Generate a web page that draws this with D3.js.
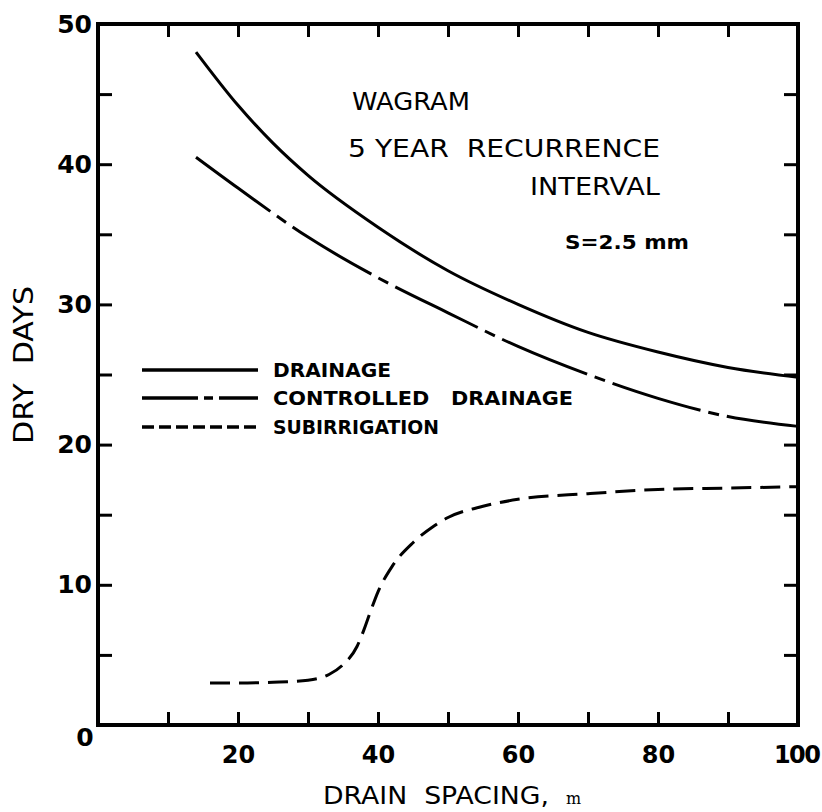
<!DOCTYPE html>
<html>
<head>
<meta charset="utf-8">
<script src="https://cdn.jsdelivr.net/npm/d3@7"></script>
<style>
  html, body { margin: 0; padding: 0; background: #fff; }
  svg { display: block; }
</style>
</head>
<body>
<svg id="chart" width="822" height="812"></svg>
<script>
// ---- data ----
const drainageX = [14, 20, 25, 30, 40, 50, 60, 70, 80, 90, 100];
const drainageY = [48, 44.2, 41.5, 39.2, 35.5, 32.4, 30.0, 28.0, 26.6, 25.5, 24.8];

const controlledX = [14, 20, 30, 40, 50, 60, 70, 80, 90, 100];
const controlledY = [40.5, 38.3, 34.8, 31.9, 29.4, 27.0, 25.0, 23.3, 22.0, 21.3];

const subirrX = [16, 20, 25, 30, 33, 35, 37, 38, 39, 40, 42, 45, 48, 50, 55, 60, 70, 80, 90, 100];
const subirrY = [3, 3, 3.05, 3.2, 3.6, 4.3, 5.6, 6.8, 8.2, 9.5, 11.3, 13.0, 14.2, 14.8, 15.6, 16.1, 16.5, 16.8, 16.9, 17.0];

const xTickLabels = [20, 40, 60, 80, 100];
const yTickLabels = [10, 20, 30, 40, 50];
const xMinorTicks = [10, 20, 30, 40, 50, 60, 70, 80, 90];
const yMinorTicks = [5, 10, 15, 20, 25, 30, 35, 40, 45];

const legendNames = ["DRAINAGE", "CONTROLLED   DRAINAGE", "SUBIRRIGATION"];
const titleLines = ["WAGRAM", "5 YEAR  RECURRENCE", "INTERVAL"];

// ---- layout ----
const svg = d3.select("#chart");
const L = 98, R = 798, T = 24, B = 725;
const x = d3.scaleLinear().domain([0, 100]).range([L, R]);
const y = d3.scaleLinear().domain([0, 50]).range([B, T]);
const FONT = "'DejaVu Sans', sans-serif";

// ticks (inward) with d3 axes
function tickAxis(axis, tx, ty) {
  const g = svg.append("g").attr("transform", `translate(${tx},${ty})`).call(axis);
  g.select(".domain").remove();
  g.selectAll(".tick line").attr("stroke", "#000").attr("stroke-width", 3);
  g.selectAll(".tick text").remove();
  return g;
}
tickAxis(d3.axisBottom(x).tickValues(xMinorTicks).tickSize(-13), 0, B);
tickAxis(d3.axisTop(x).tickValues(xMinorTicks).tickSize(-13), 0, T);
tickAxis(d3.axisLeft(y).tickValues(yMinorTicks).tickSize(-14), L, 0);
tickAxis(d3.axisRight(y).tickValues(yMinorTicks).tickSize(-14), R, 0);

// frame
svg.append("rect").attr("x", L).attr("y", T).attr("width", R - L).attr("height", B - T)
  .attr("fill", "none").attr("stroke", "#000").attr("stroke-width", 4);

// tick labels
const xl = svg.append("g").attr("transform", `translate(0,${B})`)
  .call(d3.axisBottom(x).tickValues(xTickLabels).tickSize(0).tickPadding(21).tickFormat(d3.format("d")));
xl.select(".domain").remove();
xl.selectAll("text").attr("font-family", FONT).attr("font-weight", "bold").attr("font-size", 24).attr("fill", "#000");
xl.selectAll(".tick").filter(d => d === 100).select("text")
  .attr("text-anchor", "end").attr("x", 21).attr("letter-spacing", -1.5);

const yl = svg.append("g").attr("transform", `translate(${L},0)`)
  .call(d3.axisLeft(y).tickValues(yTickLabels).tickSize(0).tickPadding(6).tickFormat(d3.format("d")));
yl.select(".domain").remove();
yl.selectAll("text").attr("font-family", FONT).attr("font-weight", "bold").attr("font-size", 25).attr("fill", "#000");

svg.append("text").attr("x", L - 13).attr("y", B + 12).attr("dy", "0.35em")
  .attr("text-anchor", "middle").attr("font-family", FONT).attr("font-weight", "bold")
  .attr("font-size", 25).text("0");

// axis titles
svg.append("text").attr("transform", `translate(33,365) rotate(-90)`)
  .attr("text-anchor", "middle").attr("font-family", FONT).attr("font-size", 27)
  .attr("textLength", 158).attr("lengthAdjust", "spacingAndGlyphs")
  .style("white-space", "pre").text("DRY  DAYS");
const xt = svg.append("text").attr("x", 323).attr("y", 804)
  .attr("font-family", FONT).attr("font-size", 25);
xt.append("tspan").attr("textLength", 226).attr("lengthAdjust", "spacingAndGlyphs")
  .style("white-space", "pre").text("DRAIN  SPACING,");
xt.append("tspan").attr("x", 566).attr("font-size", 16).attr("font-family", "'DejaVu Serif', serif").text("m");

// curves
const line = d3.line().x(d => x(d[0])).y(d => y(d[1])).curve(d3.curveMonotoneX);
const series = [
  { xs: drainageX, ys: drainageY, dash: null, legDash: null },
  { xs: controlledX, ys: controlledY, dash: "92,8,11,8", legDash: "56,6,9,6" },
  { xs: subirrX, ys: subirrY, dash: "20,9", legDash: "12,5" }
];
series.forEach(s => {
  svg.append("path").datum(s.xs.map((v, i) => [v, s.ys[i]]))
    .attr("d", line).attr("fill", "none").attr("stroke", "#000").attr("stroke-width", 3)
    .attr("stroke-dasharray", s.dash);
});

// legend
const legY = [370, 398, 427];
const legLen = [118, 300, 166];
series.forEach((s, i) => {
  svg.append("line").attr("x1", 142).attr("x2", 258).attr("y1", legY[i]).attr("y2", legY[i])
    .attr("stroke", "#000").attr("stroke-width", 3.5).attr("stroke-dasharray", s.legDash);
  svg.append("text").attr("x", 273).attr("y", legY[i]).attr("dy", "0.36em")
    .attr("font-family", FONT).attr("font-weight", "bold").attr("font-size", 19)
    .attr("textLength", legLen[i]).attr("lengthAdjust", "spacingAndGlyphs")
    .style("white-space", "pre")
    .text(legendNames[i]);
});

// title
const titlePos = [[352, 101], [348, 148], [530, 186]];
const titleLen = [118, 312, 130];
titleLines.forEach((t, i) => {
  svg.append("text").attr("x", titlePos[i][0]).attr("y", titlePos[i][1]).attr("dy", "0.36em")
    .attr("font-family", FONT).attr("font-size", 25)
    .attr("textLength", titleLen[i]).attr("lengthAdjust", "spacingAndGlyphs")
    .style("white-space", "pre").text(t);
});
svg.append("text").attr("x", 565).attr("y", 242).attr("dy", "0.36em")
  .attr("font-family", FONT).attr("font-weight", "bold").attr("font-size", 19)
  .attr("textLength", 124).attr("lengthAdjust", "spacingAndGlyphs")
  .style("white-space", "pre").text("S=2.5 mm");
</script>
</body>
</html>
